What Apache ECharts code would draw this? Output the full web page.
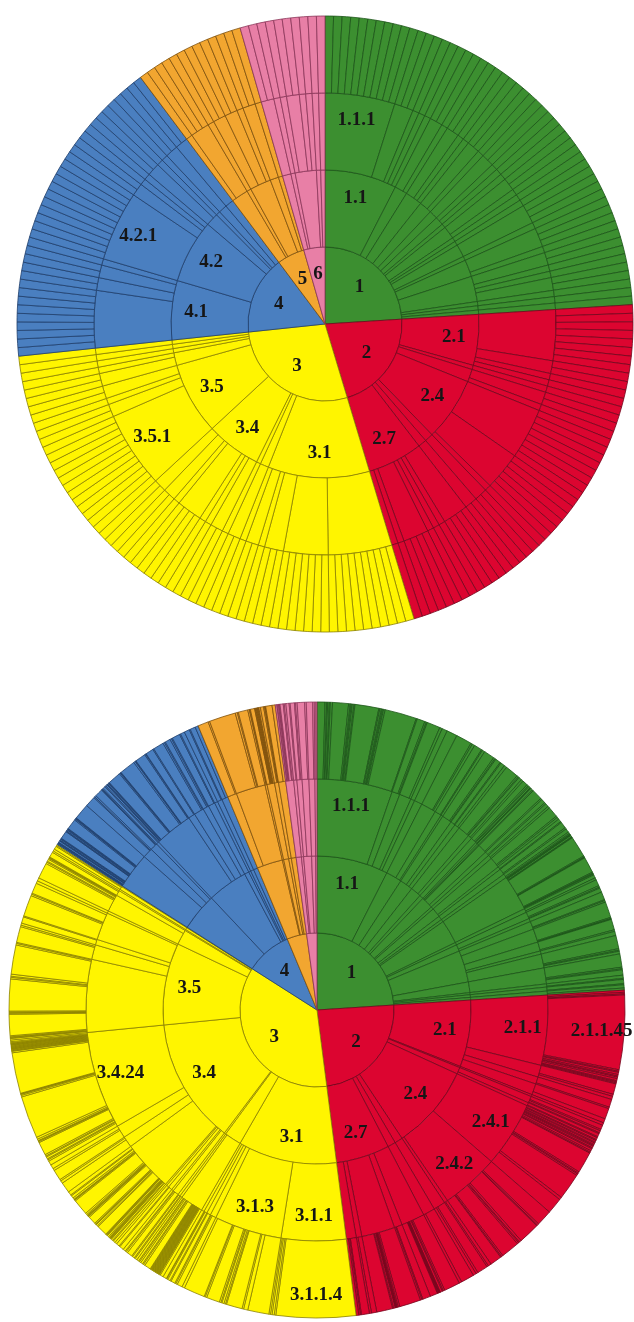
<!DOCTYPE html>
<html>
<head>
<meta charset="utf-8">
<script src="https://cdn.jsdelivr.net/npm/echarts@6/dist/echarts.min.js"></script>
<style>
  html, body { margin: 0; padding: 0; background: #ffffff; }
  #chart { width: 634px; height: 1322px; }
</style>
</head>
<body>
<div id="chart"></div>
<script>
// Enzyme classes, clockwise from the top of each wheel
const classNames = ['1', '2', '3', '4', '5', '6'];

// Upper wheel: number of EC numbers in each sub-subclass
const enzymesEC1 = [
  ['1.1', [['1.1.1', 11], ['1.1.2', 3], ['1.1.3', 1], ['1.1.5', 1], ['1.1.99', 1]]],
  ['1.2', [['1.2.1', 2], ['1.2.4', 1]]],
  ['1.3', [['1.3.1', 2], ['1.3.3', 1], ['1.3.99', 1]]],
  ['1.4', [['1.4.1', 2], ['1.4.3', 1]]],
  ['1.5', [['1.5.1', 2]]],
  ['1.6', [['1.6.5', 1], ['1.6.99', 1]]],
  ['1.7', [['1.7.2', 1]]],
  ['1.8', [['1.8.1', 2], ['1.8.4', 1]]],
  ['1.9', [['1.9.3', 1]]],
  ['1.10', [['1.10.2', 1]]],
  ['1.11', [['1.11.1', 3]]],
  ['1.12', [['1.12.2', 1]]],
  ['1.13', [['1.13.11', 3], ['1.13.12', 1]]],
  ['1.14', [['1.14.13', 2], ['1.14.14', 1], ['1.14.15', 1], ['1.14.99', 2]]],
  ['1.15', [['1.15.1', 1]]],
  ['1.16', [['1.16.1', 1]]],
  ['1.17', [['1.17.4', 1]]]
];
const enzymesEC2 = [
  ['2.1', [['2.1.1', 8], ['2.1.2', 2], ['2.1.3', 1], ['2.1.4', 1]]],
  ['2.2', [['2.2.1', 1]]],
  ['2.3', [['2.3.1', 2], ['2.3.2', 1]]],
  ['2.4', [['2.4.1', 8], ['2.4.2', 6], ['2.4.99', 1]]],
  ['2.5', [['2.5.1', 2]]],
  ['2.6', [['2.6.1', 2]]],
  ['2.7', [['2.7.1', 4], ['2.7.2', 1], ['2.7.3', 1], ['2.7.4', 1], ['2.7.7', 4], ['2.7.8', 1], ['2.7.9', 1]]]
];
const enzymesEC3 = [
  ['3.1', [['3.1.1', 10], ['3.1.3', 7], ['3.1.4', 3], ['3.1.6', 1], ['3.1.21', 2], ['3.1.26', 1]]],
  ['3.2', [['3.2.1', 2]]],
  ['3.3', [['3.3.2', 1]]],
  ['3.4', [['3.4.11', 2], ['3.4.13', 1], ['3.4.16', 1], ['3.4.21', 4], ['3.4.22', 1], ['3.4.23', 2], ['3.4.24', 2]]],
  ['3.5', [['3.5.1', 12], ['3.5.2', 2], ['3.5.3', 1], ['3.5.4', 2]]],
  ['3.6', [['3.6.1', 2], ['3.6.3', 1]]],
  ['3.7', [['3.7.1', 1]]],
  ['3.8', [['3.8.1', 1]]],
  ['3.13', [['3.13.1', 1]]]
];
const enzymesEC4 = [
  ['4.1', [['4.1.1', 9], ['4.1.2', 2], ['4.1.3', 2], ['4.1.99', 1]]],
  ['4.2', [['4.2.1', 11], ['4.2.2', 2], ['4.2.3', 1], ['4.2.99', 1]]],
  ['4.3', [['4.3.1', 2], ['4.3.2', 1]]],
  ['4.4', [['4.4.1', 1]]],
  ['4.6', [['4.6.1', 2]]],
  ['4.99', [['4.99.1', 2]]]
];
const enzymesEC5 = [
  ['5.1', [['5.1.1', 1], ['5.1.3', 3]]],
  ['5.2', [['5.2.1', 1]]],
  ['5.3', [['5.3.1', 2], ['5.3.3', 2], ['5.3.4', 1]]],
  ['5.4', [['5.4.2', 2]]],
  ['5.99', [['5.99.1', 1]]]
];
const enzymesEC6 = [
  ['6.1', [['6.1.1', 2]]],
  ['6.2', [['6.2.1', 1]]],
  ['6.3', [['6.3.1', 1], ['6.3.2', 2], ['6.3.4', 1], ['6.3.5', 1]]],
  ['6.4', [['6.4.1', 1]]],
  ['6.5', [['6.5.1', 1]]]
];

// Lower wheel: structures per EC number, grouped by sub-subclass
const structuresEC1 = [
  ['1.1', [['1.1.1', [15, 3, 2, 3, 2, 4, 30, 3, 2, 2, 3, 2, 45, 2, 3, 2, 2, 3, 60, 2]], ['1.1.2', [15, 3, 2]], ['1.1.3', [25, 5]], ['1.1.5', [10]], ['1.1.99', [20]]]],
  ['1.2', [['1.2.1', [30, 3, 5]], ['1.2.4', [15, 2]], ['1.2.7', [5]]]],
  ['1.3', [['1.3.1', [20, 3, 2]], ['1.3.3', [10, 2]], ['1.3.99', [8, 5]]]],
  ['1.4', [['1.4.1', [25, 3, 2]], ['1.4.3', [6, 4]]]],
  ['1.5', [['1.5.1', [10, 3, 2]]]],
  ['1.6', [['1.6.1', [3, 1, 1]], ['1.6.2', [4]], ['1.6.4', [2]], ['1.6.5', [20, 3]], ['1.6.99', [8, 3]]]],
  ['1.7', [['1.7.2', [6, 4]]]],
  ['1.8', [['1.8.1', [20, 3, 4]], ['1.8.4', [6, 2]]]],
  ['1.9', [['1.9.3', [12, 3]]]],
  ['1.10', [['1.10.2', [7, 3]]]],
  ['1.11', [['1.11.1', [2, 1, 1, 1, 3, 1, 1, 40, 2, 1, 1, 30, 2, 1, 1, 2]]]],
  ['1.12', [['1.12.2', [6, 4]]]],
  ['1.13', [['1.13.11', [12, 3, 2]], ['1.13.12', [8]]]],
  ['1.14', [['1.14.13', [15, 2, 3]], ['1.14.14', [30, 2, 1, 1]], ['1.14.15', [20, 3]], ['1.14.16', [8]], ['1.14.99', [25, 3, 2, 5]]]],
  ['1.15', [['1.15.1', [25, 3, 2, 10]]]],
  ['1.16', [['1.16.1', [6, 2]]]],
  ['1.17', [['1.17.4', [8, 2]]]],
  ['1.18', [['1.18.6', [6, 4]]]]
];
const structuresEC2 = [
  ['2.1', [['2.1.1', [4, 3, 2, ['2.1.1.45', 140], 3, 2, 4, 3, 2, 3, 4, 2, 2, 2]], ['2.1.2', [20, 4, 6]], ['2.1.3', [15, 3]], ['2.1.4', [20, 8]]]],
  ['2.2', [['2.2.1', [5]]]],
  ['2.3', [['2.3.1', [8, 3, 4, 2]], ['2.3.2', [6, 2]]]],
  ['2.4', [['2.4.1', [4, 2, 3, 2, 3, 2, 2, 3, 2, 4, 3, 2, 40, 3, 2, 3, 50, 5, 30]], ['2.4.2', [30, 3, 2, 40, 4, 2, 3, 35, 3, 2, 22]], ['2.4.99', [6, 3]]]],
  ['2.5', [['2.5.1', [20, 4, 6]]]],
  ['2.6', [['2.6.1', [25, 5]]]],
  ['2.7', [['2.7.1', [30, 3, 2, 4, 1, 1, 1, 1, 1, 1, 14]], ['2.7.4', [15, 2, 3]], ['2.7.7', [40, 3, 2, 1, 1, 1, 1, 3, 2, 30]], ['2.7.8', [10, 4]], ['2.7.9', [15, 2, 3, 5]]]]
];
const structuresEC3 = [
  ['3.1', [['3.1.1', [['3.1.1.4', 150], 3, 4, 3, 3]], ['3.1.3', [40, 8, 3, 30, 2, 3, 4, 2, 3, 25, 3, 2, 40, 5]], ['3.1.4', [10, 3, 2]], ['3.1.21', [8, 2]], ['3.1.26', [5, 2, 1]], ['3.1.27', [7]]]],
  ['3.2', [['3.2.1', [6, 2, 1, 1, 1, 1, 1, 1, 1, 1, 1, 1, 1, 1, 1, 1, 1, 1, 1, 1, 1, 1, 12, 3, 2, 4, 3, 2, 4]], ['3.2.2', [4, 2]]]],
  ['3.3', [['3.3.2', [4, 2]]]],
  ['3.4', [['3.4.11', [10, 3, 2]], ['3.4.13', [5]], ['3.4.16', [8, 2]], ['3.4.17', [6]], ['3.4.19', [4]],
           ['3.4.21', [4, 2, 3, 1, 1, 1, 1, 1, 2, 3, 1, 1, 1, 1, 20, 2, 3, 1, 1, 2, 15, 2, 1, 1, 1, 2, 3, 30, 2, 1, 1, 3, 5, 2, 7]],
           ['3.4.22', [20, 5, 3]], ['3.4.23', [20, 4, 8]],
           ['3.4.24', [8, 3, 2, 4, 2, 3, 25, 2, 1, 1, 3, 4, 80, 3, 2, 1, 1, 77, 3, 1, 1, 1, 1, 1, 1, 1, 1, 1, 1, 1, 1, 1, 1, 1, 1, 2, 3]]]],
  ['3.5', [['3.5.1', [3, 1, 1, 1, 2, 40, 2, 1, 1, 2, 60, 3, 2, 4, 55, 3, 2]], ['3.5.2', [30, 3, 4]], ['3.5.3', [12, 2]], ['3.5.4', [40, 3, 2, 20, 5]], ['3.5.99', [6]]]],
  ['3.6', [['3.6.1', [30, 3, 2, 4, 2, 1, 1, 1]], ['3.6.4', [10, 3]]]],
  ['3.7', [['3.7.1', [4]]]],
  ['3.8', [['3.8.1', [6, 2]]]],
  ['3.13', [['3.13.1', [2]]]]
];
const structuresEC4 = [
  ['4.1', [['4.1.1', [2, 1, 1, 1, 3, 1, 1, 2, 1, 1, 15, 1, 1, 2, 1, 1, 1, 20, 2, 1, 1, 1, 30]], ['4.1.2', [20, 2, 3]], ['4.1.3', [15, 1, 1, 2]], ['4.1.99', [5, 2]]]],
  ['4.2', [['4.2.1', [3, 1, 1, 2, 1, 1, 25, 2, 1, 1, 30, 3, 1, 1, 20, 2, 1]], ['4.2.2', [15, 2]], ['4.2.3', [20, 3, 2]], ['4.2.99', [10, 3, 2]]]],
  ['4.3', [['4.3.1', [15, 2]]]],
  ['4.4', [['4.4.1', [8]]]],
  ['4.6', [['4.6.1', [10, 2]]]],
  ['4.99', [['4.99.1', [10, 6]]]]
];
const structuresEC5 = [
  ['5.1', [['5.1.1', [20, 3]], ['5.1.3', [50, 4, 2, 18]]]],
  ['5.2', [['5.2.1', [3, 1, 1]]]],
  ['5.3', [['5.3.1', [8, 1, 1, 1, 1, 1, 1, 1, 1, 3]]]],
  ['5.4', [['5.4.2', [6, 2, 1, 1]]]],
  ['5.99', [['5.99.1', [12, 6]]]]
];
const structuresEC6 = [
  ['6.1', [['6.1.1', [3, 1, 2, 1, 1, 1, 6, 2, 3]]]],
  ['6.2', [['6.2.1', [6, 2]]]],
  ['6.3', [['6.3.2', [8, 2, 3]], ['6.3.5', [14, 3]]]],
  ['6.4', [['6.4.1', [12, 3]]]],
  ['6.5', [['6.5.1', [3, 2]]]]
];

// Nodes whose EC number is printed on the wheel
const upperLabels = ['1', '1.1', '1.1.1', '2', '2.1', '2.4', '2.7', '3', '3.1', '3.4', '3.5', '3.5.1',
                     '4', '4.1', '4.2', '4.2.1', '5', '6'];
const lowerLabels = ['1', '1.1', '1.1.1', '2', '2.1', '2.1.1', '2.1.1.45', '2.4', '2.4.1', '2.4.2', '2.7',
                     '3', '3.1', '3.1.1', '3.1.1.4', '3.1.3', '3.4', '3.4.24', '3.5', '4'];

// Fill and outline colour for each class
const classStyle = {
  '1': { color: '#3c8f30', border: '#1d5619' },
  '2': { color: '#dc0530', border: '#74061d' },
  '3': { color: '#fff500', border: '#8a8000' },
  '4': { color: '#4a7fc0', border: '#1f3f6c' },
  '5': { color: '#f2a630', border: '#7e500d' },
  '6': { color: '#e87fa6', border: '#8a3558' }
};

// Leaves: a number means that many single EC entries, an array lists weights.
// Unnamed leaves get an internal id that never clashes with a printed EC number.
function toLeaves(parentName, leaves) {
  if (typeof leaves === 'number') {
    return Array.from({ length: leaves }, (_, k) => [parentName + '#' + (k + 1), 1]);
  }
  return leaves.map((v, k) => Array.isArray(v) ? v : [parentName + '#' + (k + 1), v]);
}

function buildWheel(groups, labels) {
  const roots = classNames.map((cls, i) => {
    const st = classStyle[cls];
    const node = (name, extra) => Object.assign({
      name: name,
      itemStyle: { color: st.color, borderColor: st.border }
    }, extra);
    return node(cls, {
      children: groups[i].map(([sub, subsubs]) => node(sub, {
        children: subsubs.map(([ss, leaves]) => node(ss, {
          children: toLeaves(ss, leaves).map(([n, v]) => node(n, { value: v }))
        }))
      }))
    });
  });
  placeLabels(roots, labels);
  return roots;
}

// Labels sit a little outside the middle of their ring; the shift is
// done with rich-text padding along the direction of the segment.
const labelShift = [12, 14, 14, 16];
function total(n) {
  return n.value != null ? n.value : n.children.reduce((s, c) => s + total(c), 0);
}
function placeLabels(roots, labels) {
  const sum = roots.reduce((s, r) => s + total(r), 0);
  function walk(nodes, start, depth) {
    let acc = start;
    nodes.forEach((n) => {
      const v = total(n);
      if (labels.indexOf(n.name) >= 0) {
        const mid = (90 - 360 * (acc + v / 2) / sum) * Math.PI / 180;
        const d = labelShift[depth];
        const sx = d * Math.cos(mid);
        const sy = -d * Math.sin(mid);
        n.label = {
          show: true,
          formatter: '{t|{b}}',
          rich: {
            t: {
              fontFamily: 'Liberation Serif',
              fontWeight: 'bold',
              fontSize: 19,
              color: '#161616',
              padding: [Math.max(0, 2 * sy), Math.max(0, -2 * sx), Math.max(0, -2 * sy), Math.max(0, 2 * sx)]
            }
          }
        };
      }
      if (n.children) walk(n.children, acc, depth + 1);
      acc += v;
    });
  }
  walk(roots, 0, 0);
}

const upperData = buildWheel([enzymesEC1, enzymesEC2, enzymesEC3, enzymesEC4, enzymesEC5, enzymesEC6], upperLabels);
const lowerData = buildWheel([structuresEC1, structuresEC2, structuresEC3, structuresEC4, structuresEC5, structuresEC6], lowerLabels);

const wheel = {
  type: 'sunburst',
  radius: [0, 308],
  startAngle: 90,
  clockwise: true,
  sort: null,
  nodeClick: false,
  emphasis: { focus: 'none' },
  itemStyle: { borderWidth: 0.8 },
  label: {
    show: false,
    rotate: 0,
    fontFamily: 'Liberation Serif',
    fontWeight: 'bold',
    fontSize: 19,
    color: '#161616'
  }
};

const chart = echarts.init(document.getElementById('chart'), null, { renderer: 'canvas' });
chart.setOption({
  backgroundColor: '#ffffff',
  animation: false,
  series: [
    Object.assign({}, wheel, { center: [325, 324], data: upperData }),
    Object.assign({}, wheel, { center: [317, 1010], data: lowerData })
  ]
});
</script>
</body>
</html>
